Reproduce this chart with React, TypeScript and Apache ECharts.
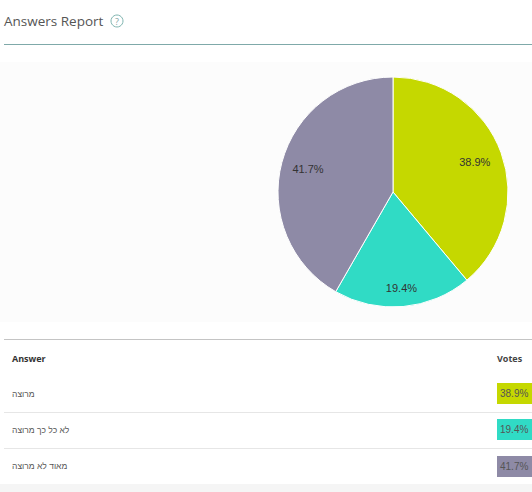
import React, { useEffect, useRef } from "react";
import * as echarts from "echarts";

const answers = ["מרוצה", "לא כל כך מרוצה", "מאוד לא מרוצה"];
const percents = [38.9, 19.4, 41.7];
const colors = ["#c5d800", "#30dbc5", "#8e8aa6"];
const title = "Answers Report";
const headers = ["Answer", "Votes"];
const font = "'Open Sans', sans-serif";
const labelFont = "'Liberation Sans', Arial, sans-serif";
const labelRadius = [87, 96, 88];
const rowTextY = [394, 430, 466];
const rowSwatchY = [383, 419, 456];
const rowLineY = [412, 448];

export default function App() {
  const ref = useRef<HTMLDivElement>(null);
  useEffect(() => {
    document.body.style.margin = "0";
    const chart = echarts.init(ref.current!, null, { renderer: "svg" });
    const total = percents.reduce((a, b) => a + b, 0);
    const cx = 393;
    const cy = 192;
    const graphic: any[] = [
      { type: "rect", z: -1, shape: { x: 0, y: 62, width: 532, height: 260 }, style: { fill: "#fcfcfc" } },
      { type: "rect", z: -1, shape: { x: 0, y: 484, width: 532, height: 8 }, style: { fill: "#f5f5f5" } },
      { type: "text", x: 4, y: 21, style: { text: title, font: `13.5px ${font}`, fill: "#555", textVerticalAlign: "middle" } },
      { type: "circle", shape: { cx: 117, cy: 21, r: 6 }, style: { fill: "none", stroke: "#7fb5b0", lineWidth: 1 } },
      { type: "text", x: 117, y: 21, style: { text: "?", font: `9px ${font}`, fill: "#7fa5a5", textAlign: "center", textVerticalAlign: "middle" } },
      { type: "line", shape: { x1: 4, y1: 44.5, x2: 532, y2: 44.5 }, style: { stroke: "#7fa9a9", lineWidth: 1 } },
      { type: "line", shape: { x1: 4, y1: 339.5, x2: 532, y2: 339.5 }, style: { stroke: "#c4c4c4", lineWidth: 1 } },
      { type: "text", x: 12, y: 358, style: { text: headers[0], font: `bold 9px ${font}`, fill: "#333", textVerticalAlign: "middle" } },
      { type: "text", x: 497, y: 358, style: { text: headers[1], font: `bold 9px ${font}`, fill: "#444", textVerticalAlign: "middle" } },
    ];
    rowLineY.forEach((y) =>
      graphic.push({ type: "line", shape: { x1: 4, y1: y + 0.5, x2: 532, y2: y + 0.5 }, style: { stroke: "#e6e6e6", lineWidth: 1 } })
    );
    answers.forEach((a, i) => {
      graphic.push({ type: "text", x: 12, y: rowTextY[i], style: { text: a, font: `8.5px 'Liberation Sans', sans-serif`, fill: "#555", textVerticalAlign: "middle" } });
      graphic.push({ type: "rect", shape: { x: 497, y: rowSwatchY[i], width: 35, height: 21 }, style: { fill: colors[i] } });
      graphic.push({ type: "text", x: 500, y: rowSwatchY[i] + 10.5, style: { text: `${percents[i].toFixed(1)}%`, font: `10px ${labelFont}`, fill: "#555", textVerticalAlign: "middle" } });
    });
    let acc = 0;
    const mids = percents.map((p) => {
      const m = ((acc + p / 2) / total) * 2 * Math.PI;
      acc += p;
      return m;
    });
    chart.setOption({
      animation: false,
      backgroundColor: "#fff",
      graphic,
      series: [
        {
          type: "pie",
          center: [cx, cy],
          radius: [0, 115],
          startAngle: 90,
          clockwise: true,
          color: colors,
          data: answers.map((name, i) => ({ name, value: percents[i] })),
          itemStyle: { borderColor: "#fff", borderWidth: 1 },
          label: {
            position: "inside",
            formatter: (p: any) => `${p.value.toFixed(1)}%`,
            fontFamily: labelFont,
            fontSize: 11,
            color: "#333",
            textBorderWidth: 0,
          },
          labelLine: { show: false },
          labelLayout: (p: any) => ({
            x: cx + labelRadius[p.dataIndex] * Math.sin(mids[p.dataIndex]),
            y: cy - labelRadius[p.dataIndex] * Math.cos(mids[p.dataIndex]),
            align: "center",
            verticalAlign: "middle",
          }),
          emphasis: { disabled: true },
        },
      ],
    });
    return () => chart.dispose();
  }, []);
  return <div ref={ref} style={{ width: 532, height: 492 }} />;
}
